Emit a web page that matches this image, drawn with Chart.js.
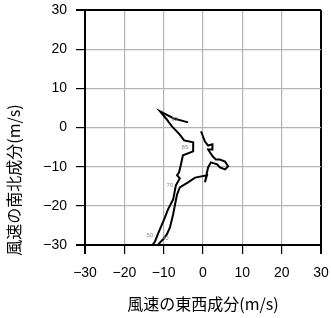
<!DOCTYPE html>
<html>
<head>
<meta charset="utf-8">
<script src="https://cdn.jsdelivr.net/npm/chart.js@4"></script>
<style>
  html, body { margin: 0; padding: 0; background: #fff; }
  #wrap { width: 331px; height: 318px; }
</style>
</head>
<body>
<div id="wrap"><canvas id="hodo" width="331" height="318"></canvas></div>
<script>
// hodograph: east-west (u) and north-south (v) wind components, m/s
const uWind = [-3.8, -7.4, -10.9, -9.4, -7.9, -5.9, -4.8, -2.5, -2.5, -5.1, -5.6, -6.1, -6.6, -5.9, -6.9, -7.6, -8.9, -9.7, -10.4, -11.5, -12.2, -13.0,
               -11.7, -10.2, -9.2, -8.4, -7.6, -7.1, -6.6, -5.9, -3.8, -2.0, 1.0, 0.5, 1.0, 1.3, 2.0, 3.6, 4.3, 5.6, 6.4, 5.6, 4.3, 3.3, 2.5, 1.8, 1.3, 2.3, 2.5, 2.3, 1.3, 0.5, 0.0, -0.5];
const vWind = [1.3, 2.3, 4.1, 2.3, 0.3, -1.8, -3.3, -3.8, -6.1, -7.1, -9.4, -11.5, -12.2, -13.0, -14.8, -18.4, -20.9, -23.0, -24.7, -27.3, -29.1, -30.2,
               -30.2, -28.6, -27.3, -25.5, -22.2, -19.6, -17.1, -15.3, -14.0, -12.8, -12.2, -14.0, -11.5, -10.2, -8.9, -9.4, -10.2, -10.7, -9.9, -8.7, -8.2, -8.2, -7.4, -6.4, -5.6, -5.6, -4.8, -4.3, -4.6, -3.6, -2.3, -1.0];

// small level labels along the curve
const levelNames = ['92', '85', '70', '50', '40'];
const levelU = [-7.2, -4.6, -8.4, -13.5, -9.6];
const levelV = [2.0, -5.1, -14.8, -27.6, -28.4];

const tickValues = [-30, -20, -10, 0, 10, 20, 30];

const points = uWind.map((u, i) => ({x: u, y: vWind[i]}));

const edgeColor = c => (c.tick && Math.abs(c.tick.value) === 30) ? '#000' : '#b4b4b4';
const edgeWidth = c => (c.tick && Math.abs(c.tick.value) === 30) ? 2 : 1.2;

const levelLabels = {
  id: 'levelLabels',
  afterDatasetsDraw(chart) {
    const {ctx, scales: {x, y}} = chart;
    ctx.save();
    ctx.fillStyle = '#888';
    ctx.font = '6px "Liberation Sans", sans-serif';
    ctx.textAlign = 'center';
    ctx.textBaseline = 'middle';
    levelNames.forEach((t, i) => ctx.fillText(t, x.getPixelForValue(levelU[i]), y.getPixelForValue(levelV[i])));
    ctx.restore();
  }
};

const yTitle = {
  id: 'yTitle',
  afterDraw(chart) {
    const ctx = chart.ctx;
    ctx.save();
    ctx.translate(14, 180);
    ctx.rotate(-Math.PI / 2);
    ctx.fillStyle = '#000';
    ctx.font = '16px "Noto Sans CJK JP", sans-serif';
    ctx.textAlign = 'center';
    ctx.textBaseline = 'middle';
    ctx.fillText('風速の南北成分(m/s)', 0, 0);
    ctx.restore();
  }
};

new Chart(document.getElementById('hodo'), {
  type: 'scatter',
  data: {
    datasets: [{
      data: points,
      showLine: true,
      borderColor: '#000',
      borderWidth: 2,
      pointRadius: 0,
      tension: 0
    }]
  },
  options: {
    responsive: false,
    animation: false,
    layout: { padding: { top: 10, right: 10, left: 0, bottom: 0 } },
    plugins: { legend: { display: false }, tooltip: { enabled: false } },
    scales: {
      x: {
        type: 'linear', min: -30, max: 30,
        afterBuildTicks: s => { s.ticks = tickValues.map(v => ({value: v})); },
        afterFit: s => { s.height = 73; s.paddingLeft = 0; s.paddingRight = 0; },
        grid: { color: edgeColor, lineWidth: edgeWidth, tickColor: '#000', tickLength: 9 },
        border: { color: '#000', width: 2 },
        ticks: {
          color: '#000', padding: 11,
          font: { family: '"Liberation Sans", sans-serif', size: 14 },
          callback: v => (v < 0 ? '\u2212' + Math.abs(v) : String(v))
        },
        title: {
          display: true, text: '風速の東西成分(m/s)', color: '#000',
          font: { family: '"Noto Sans CJK JP", sans-serif', size: 16 },
          padding: { top: 0, bottom: 4 }
        }
      },
      y: {
        type: 'linear', min: -30, max: 30,
        afterBuildTicks: s => { s.ticks = tickValues.map(v => ({value: v})); },
        afterFit: s => { s.width = 85; s.paddingTop = 0; s.paddingBottom = 0; },
        grid: { color: edgeColor, lineWidth: edgeWidth, tickColor: '#000', tickLength: 9 },
        border: { color: '#000', width: 2 },
        ticks: {
          color: '#000', padding: 9,
          font: { family: '"Liberation Sans", sans-serif', size: 14 },
          callback: v => (v < 0 ? '\u2212' + Math.abs(v) : String(v))
        }
      }
    }
  },
  plugins: [levelLabels, yTitle]
});
</script>
</body>
</html>
